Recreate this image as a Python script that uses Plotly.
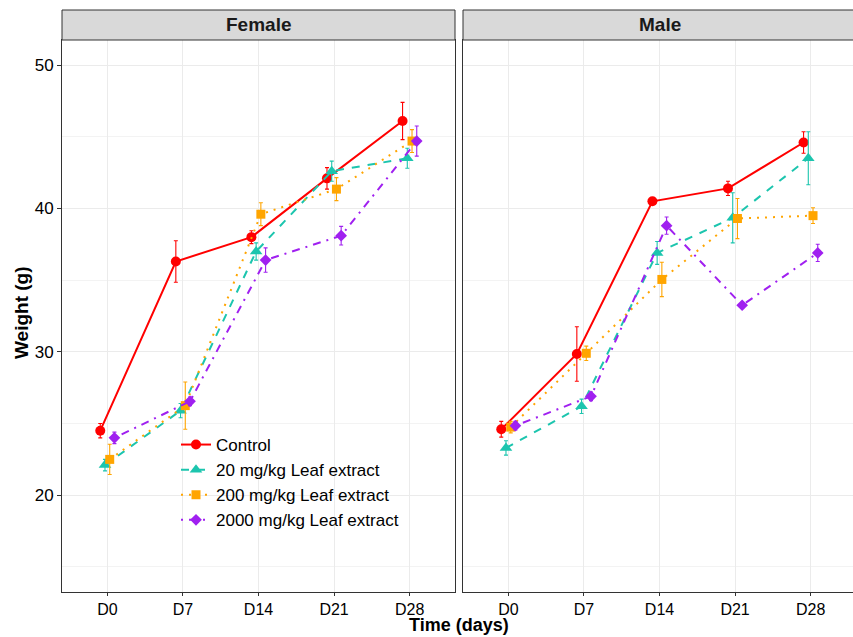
import plotly.graph_objects as go

# ---- data ----
days = ["D0", "D7", "D14", "D21", "D28"]
groups = ["Control", "20 mg/kg Leaf extract", "200 mg/kg Leaf extract", "2000 mg/kg Leaf extract"]

female_control = [24.5, 36.3, 38.0, 42.1, 46.1]
female_control_err = [0.5, 1.45, 0.45, 0.75, 1.3]
female_20 = [22.1, 25.9, 37.0, 42.6, 43.5]
female_20_err = [0.4, 0.5, 0.6, 0.7, 0.7]
female_200 = [22.5, 26.25, 39.6, 41.35, 44.7]
female_200_err = [1.05, 1.65, 0.8, 0.8, 0.8]
female_2000 = [24.0, 26.55, 36.4, 38.1, 44.7]
female_2000_err = [0.4, 0.3, 0.85, 0.65, 1.05]

male_control = [24.6, 29.85, 40.5, 41.4, 44.6]
male_control_err = [0.55, 1.9, 0.15, 0.5, 0.75]
male_20 = [23.3, 26.2, 36.9, 39.35, 43.5]
male_20_err = [0.5, 0.5, 0.8, 1.75, 1.85]
male_200 = [24.75, 29.9, 35.05, 39.3, 39.5]
male_200_err = [0.4, 0.5, 1.2, 1.4, 0.55]
male_2000 = [24.85, 26.9, 38.8, 33.25, 36.9]
male_2000_err = [0.3, 0.3, 0.6, 0.2, 0.6]

# ---- styles ----
colors = ["#FF0000", "#1CC5AE", "#FFA500", "#A020F0"]
symbols = ["circle", "triangle-up", "square", "diamond"]
msizes = [10, 11, 9, 9]
dashes = ["solid", "8px,8px", "2px,6px", "2px,6px,8px,6px"]
dodge_width = 0.25

female = [(female_control, female_control_err), (female_20, female_20_err),
          (female_200, female_200_err), (female_2000, female_2000_err)]
male = [(male_control, male_control_err), (male_20, male_20_err),
        (male_200, male_200_err), (male_2000, male_2000_err)]

fig = go.Figure()
n = len(groups)
for panel, (series, xa, ya) in enumerate([(female, "x", "y"), (male, "x2", "y2")]):
    for g in range(n):
        vals, errs = series[g]
        off = (g - (n - 1) / 2) * dodge_width / n
        xs = [i + off for i in range(len(days))]
        fig.add_trace(go.Scatter(
            x=xs, y=vals, xaxis=xa, yaxis=ya,
            mode="lines+markers",
            name=groups[g], legendgroup=groups[g], showlegend=(panel == 0),
            line=dict(color=colors[g], width=2, dash=dashes[g]),
            marker=dict(color=colors[g], symbol=symbols[g], size=msizes[g]),
            error_y=dict(type="data", array=errs, visible=True,
                         color=colors[g], thickness=1.1, width=2),
        ))

W, H = 853, 637
ml, mr, mt, mb = 62, 0, 40, 45
pw = W - ml - mr
ph = H - mt - mb
px_per_unit = 393 / 5.2
left_dom = [0, 393 / pw]
right_dom = [401 / pw, 1]
right_max = -0.6 + (pw - 401) / px_per_unit

font_family = "Liberation Sans, Arial, sans-serif"
grid_major = "#EBEBEB"
border = "#333333"

xcommon = dict(tickmode="array", tickvals=list(range(len(days))), ticktext=days,
               showgrid=True, gridcolor=grid_major, gridwidth=1.4,
               showline=True, linecolor=border, linewidth=1, mirror=True,
               ticks="outside", ticklen=3, tickcolor=border, tickwidth=1,
               tickfont=dict(size=16, color="black", family=font_family),
               zeroline=False, fixedrange=True)
ycommon = dict(range=[13.25, 51.75], tickmode="linear", tick0=0, dtick=10,
               showgrid=True, gridcolor=grid_major, gridwidth=1.4,
               minor=dict(dtick=5, tick0=0, showgrid=True, gridcolor="#F3F3F3", gridwidth=1),
               showline=True, linecolor=border, linewidth=1,
               tickfont=dict(size=17, color="black", family=font_family),
               zeroline=False, fixedrange=True)

strip_h = 30 / ph
shapes = []
annotations = []
for dom, label in [(left_dom, "Female"), (right_dom, "Male")]:
    shapes.append(dict(type="rect", xref="paper", yref="paper",
                       x0=dom[0], x1=dom[1] if dom[1] < 1 else 1 + 3 / pw,
                       y0=1, y1=1 + strip_h,
                       fillcolor="#D9D9D9", line=dict(color=border, width=1)))
    cx = dom[0] + (393 / pw) / 2
    annotations.append(dict(text="<b>%s</b>" % label, xref="paper", yref="paper",
                            x=cx, y=1 + strip_h / 2, showarrow=False,
                            xanchor="center", yanchor="middle",
                            font=dict(size=19, color="#1A1A1A", family=font_family)))

annotations.append(dict(text="<b>Time (days)</b>", xref="paper", yref="paper",
                        x=(459 - ml) / pw, y=-(H - (mt + ph)) / ph,
                        showarrow=False, xanchor="center", yanchor="bottom",
                        font=dict(size=18, color="black", family=font_family)))
annotations.append(dict(text="<b>Weight (g)</b>", xref="paper", yref="paper",
                        x=-(ml - 21) / pw, y=(mt + ph - 313) / ph,
                        showarrow=False, xanchor="center", yanchor="middle", textangle=-90,
                        font=dict(size=19, color="black", family=font_family)))

fig.update_layout(
    width=W, height=H,
    margin=dict(l=ml, r=mr, t=mt, b=mb),
    paper_bgcolor="white", plot_bgcolor="white",
    font=dict(family=font_family, color="black"),
    xaxis=dict(domain=left_dom, range=[-0.6, 4.6], anchor="y", **xcommon),
    xaxis2=dict(domain=right_dom, range=[-0.6, right_max], anchor="y2", **xcommon),
    yaxis=dict(domain=[0, 1], anchor="x", ticks="outside", ticklen=4, tickcolor=border,
               tickwidth=1, mirror=True, **ycommon),
    yaxis2=dict(domain=[0, 1], anchor="x2", showticklabels=False, ticks="", mirror=False,
                **ycommon),
    shapes=shapes,
    annotations=annotations,
    showlegend=True,
    legend=dict(x=(176 - ml) / pw, y=(mt + ph - 427) / ph, xanchor="left", yanchor="top",
                bgcolor="rgba(255,255,255,0)", borderwidth=0,
                font=dict(size=17, color="black", family=font_family),
                tracegroupgap=0, itemwidth=30),
)

fig.write_html("out.html")
